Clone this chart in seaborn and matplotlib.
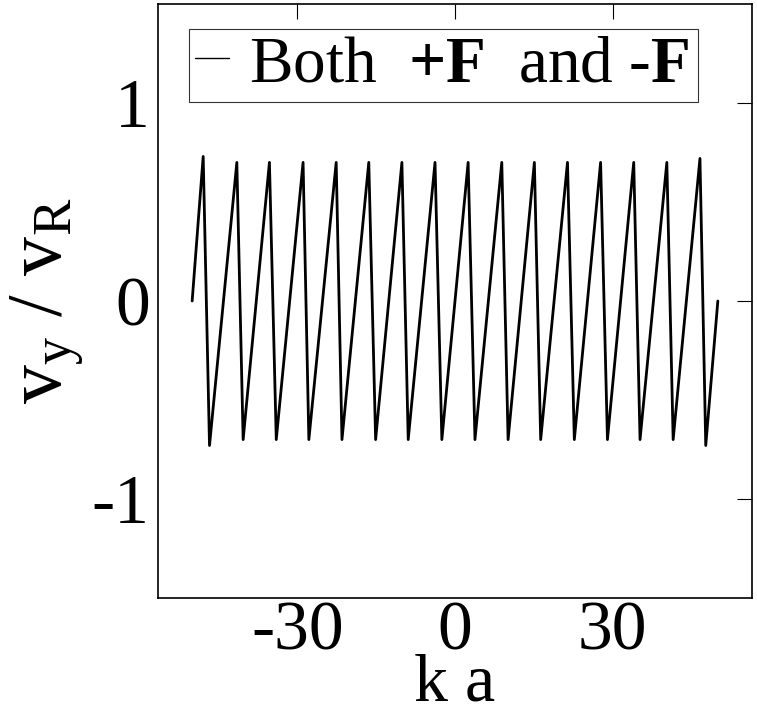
import numpy as np
import pandas as pd
import matplotlib
matplotlib.use("Agg")
import matplotlib.pyplot as plt
import seaborn as sns

# valores (extremos de cada "dente" da curva)
start_point = (-50.0, 0.0)
end_point = (50.0, 0.0)
peak_x = [-47.9, -41.5, -35.3, -28.9, -22.6, -16.4, -10.1, -3.8,
          2.5, 8.9, 15.1, 21.4, 27.7, 34.0, 40.3, 46.6]
peak_y = [0.73, 0.70, 0.70, 0.70, 0.70, 0.70, 0.70, 0.70,
          0.70, 0.70, 0.70, 0.70, 0.70, 0.70, 0.70, 0.72]
trough_x = [-46.7, -40.3, -34.0, -27.8, -21.5, -15.1, -8.9, -2.5,
            3.8, 10.1, 16.3, 22.7, 29.0, 35.2, 41.5, 47.7]
trough_y = [-0.73, -0.70, -0.70, -0.70, -0.70, -0.70, -0.70, -0.70,
            -0.70, -0.70, -0.70, -0.70, -0.70, -0.70, -0.70, -0.73]

x_ticks = [-30, 0, 30]
y_ticks = [-1, 0, 1]
legend_label = r"Both  $\mathbf{+F}$  and -$\mathbf{F}$ "

# monta a curva: início, pico, vale, pico, vale, ..., fim
xs = [start_point[0]]
ys = [start_point[1]]
for px, py, tx, ty in zip(peak_x, peak_y, trough_x, trough_y):
    xs += [px, tx]
    ys += [py, ty]
xs.append(end_point[0])
ys.append(end_point[1])
df = pd.DataFrame({"ka": xs, "vy": ys})

sns.set_theme(style="white")
plt.rcParams["font.family"] = ["Liberation Serif", "DejaVu Serif"]
plt.rcParams["mathtext.fontset"] = "custom"
plt.rcParams["mathtext.rm"] = "Liberation Serif"
plt.rcParams["mathtext.it"] = "Liberation Serif"
plt.rcParams["mathtext.bf"] = "Liberation Serif:bold"
plt.rcParams["axes.unicode_minus"] = False
plt.rcParams["text.color"] = "black"
plt.rcParams["axes.labelcolor"] = "black"

fig = plt.figure(figsize=(7.57, 7.13), dpi=100)
ax = fig.add_axes([0.2087, 0.1613, 0.7847, 0.8331])

sns.lineplot(data=df, x="ka", y="vy", ax=ax, sort=False, estimator=None,
             color="black", linewidth=2.0, label=legend_label)
for line in ax.get_lines():
    line.set_solid_joinstyle("round")

ax.set_xlim(-56.5, 56.5)
ax.set_ylim(-1.5, 1.5)
ax.set_xticks(x_ticks)
ax.set_yticks(y_ticks)
ax.tick_params(direction="in", length=11, width=0.8, top=True, right=True,
               labelsize=50, colors="black")
ax.tick_params(axis="x", pad=2)
ax.tick_params(axis="y", pad=6)
for sp in ax.spines.values():
    sp.set_linewidth(1.2)
    sp.set_color("black")

ax.set_xlabel("k a", fontsize=49, labelpad=-8)
ax.set_ylabel(r"v$_{\mathrm{y}}$ / v$_{\mathrm{R}}$", fontsize=56, labelpad=4)

leg = ax.legend(loc="upper center", bbox_to_anchor=(0.4806, 0.958),
                borderaxespad=0, fontsize=47, frameon=True, fancybox=False,
                handlelength=0.52, handletextpad=0.3, borderpad=0.1)
leg.get_frame().set_edgecolor("black")
leg.get_frame().set_linewidth(0.8)
leg.get_lines()[0].set_linewidth(1.0)

fig.savefig("out.png", dpi=100)
